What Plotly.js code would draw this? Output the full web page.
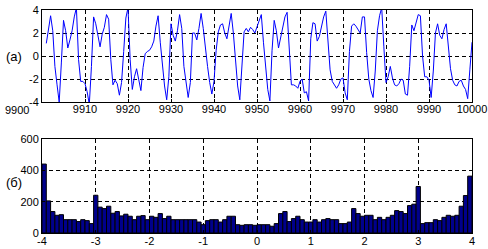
<!DOCTYPE html>
<html>
<head>
<meta charset="utf-8">
<script src="https://cdn.plot.ly/plotly-3.0.1.min.js"></script>
<style>html,body{margin:0;padding:0;background:#fff;}#chart{width:488px;height:249px;}</style>
</head>
<body>
<div id="chart"></div>
<script>
// ---- top panel (a): time series, samples every 0.5 starting at 9901 ----
const seriesStart = 9901;
const seriesStep = 0.5;
const seriesValues = [
  1.1, 2.5, 3.5, 2.2, -0.9, -2.5, -4.0, -0.6, 3.1, 2.2,
  0.7, 1.4, 2.2, 3.4, 4.2, -0.3, -2.2, -2.2, -2.4, -3.1,
  -4.2, -0.9, 3.4, 2.8, 1.7, 0.8, 1.9, 2.5, 3.6, 3.2,
  -0.3, -2.5, -2.1, -2.4, -3.4, -2.3, 0.4, 3.3, 4.2, -0.3,
  -2.9, -1.8, -1.1, -2.1, -3.0, -1.0, 0.2, 0.4, 0.5, 0.8,
  1.3, 2.6, 3.5, 1.2, -1.1, -2.6, -3.8, -1.8, 2.8, 1.8,
  1.3, 2.2, 3.6, 2.4, -0.9, -2.3, -3.6, -2.3, 2.0, 2.0,
  1.4, 2.4, 3.7, 2.4, 0.6, -0.9, -2.3, -3.3, -2.2, 0.5,
  2.1, 2.7, 2.8, 2.0, 1.5, 2.8, 3.7, 2.0, -0.6, -2.6,
  -3.8, -0.9, 2.1, 2.4, 2.1, 2.5, 2.3, 2.0, 2.6, 3.0,
  3.6, 1.2, -0.9, -2.9, -3.9, 0.5, 3.1, 2.2, 0.7, 1.6,
  2.7, 3.4, 3.8, 0.0, -2.5, -2.5, -2.6, -2.8, -2.2, -2.0,
  -3.2, -3.1, -3.9, 1.5, 2.9, 2.8, 1.3, 1.7, 2.5, 3.4,
  3.9, 1.6, -1.2, -2.2, -2.5, -2.8, -2.5, -2.0, -1.9, -3.2,
  -3.8, 0.4, 2.6, 2.8, 2.6, 2.3, 2.0, 3.4, 3.4, 0.3,
  -2.0, -3.0, -3.6, -1.3, 2.2, 3.5, 4.2, 0.8, -2.3, -1.8,
  -0.9, -1.9, -2.5, -2.6, -2.4, -2.0, -2.1, -3.3, -3.4, -0.9,
  2.7, 2.2, 2.8, 3.6, 3.5, 0.0, -1.8, -1.8, -2.1, -3.6,
  -1.3, 2.0, 2.8, 1.8, 1.5, 2.3, 2.8, 0.5, -1.1, -2.1,
  -2.5, -2.6, -2.2, -2.1, -2.6, -2.9, -3.7, -1.2, 1.2
];
const topXTicks = [9900, 9910, 9920, 9930, 9940, 9950, 9960, 9970, 9980, 9990, 10000];
const topXLabels = ['9900','9910','9920','9930','9940','9950','9960','9970','9980','9990','10000'];
const topYTicks = [-4, -2, 0, 2, 4];
const topYLabels = ['-4','-2','0','2','4'];

// ---- bottom panel (б): histogram, 100 bins of width 0.08 from -4 to 4 ----
const binFirstCenter = -3.96;
const binWidth = 0.08;
const binCounts = [
  440, 205, 137, 113, 117, 85, 85, 85, 73, 85,
  79, 60, 241, 165, 156, 171, 126, 137, 109, 120,
  107, 85, 107, 111, 85, 107, 100, 124, 92, 107,
  85, 85, 85, 85, 85, 85, 70, 53, 79, 85,
  85, 70, 85, 107, 107, 53, 49, 53, 53, 49,
  53, 53, 53, 43, 60, 124, 137, 73, 92, 107,
  85, 70, 70, 85, 70, 85, 92, 85, 85, 60,
  60, 70, 156, 124, 107, 113, 113, 85, 100, 85,
  100, 113, 143, 137, 124, 175, 184, 297, 60, 66,
  66, 85, 79, 100, 113, 107, 113, 171, 239, 363
];
const botXTicks = [-4, -3, -2, -1, 0, 1, 2, 3, 4];
const botXLabels = ['-4','-3','-2','-1','0','1','2','3','4'];
const botYTicks = [0, 200, 400, 600];
const botYLabels = ['0','200','400','600'];

const panelLabels = ['(a)', '(б)'];

const font = {family: 'Liberation Sans, Arial, sans-serif', size: 11, color: '#000'};
const axisCommon = {
  showline: true, mirror: true, linecolor: '#000', linewidth: 1,
  showgrid: true, gridcolor: '#000', gridwidth: 1, griddash: '4px,3px',
  zeroline: false, ticks: 'inside', ticklen: 3, tickcolor: '#000',
  tickmode: 'array', tickfont: font
};

// first top tick label is drawn to the left of its tick, as in the reference
const topXTextShown = topXLabels.map((t, i) => (i === 0 ? '' : t));

const traces = [
  {
    type: 'scatter', mode: 'lines',
    x0: seriesStart, dx: seriesStep, y: seriesValues,
    line: {color: '#0000ff', width: 1},
    xaxis: 'x', yaxis: 'y', hoverinfo: 'skip'
  },
  {
    type: 'bar',
    x0: binFirstCenter, dx: binWidth, y: binCounts,
    width: binWidth,
    marker: {color: '#00008c', line: {color: '#000', width: 1}},
    xaxis: 'x2', yaxis: 'y2', hoverinfo: 'skip'
  }
];

const layout = {
  width: 488, height: 249,
  margin: {l: 42, r: 16, t: 10, b: 16, pad: 0},
  paper_bgcolor: '#fff', plot_bgcolor: '#fff',
  showlegend: false, bargap: 0,
  font: font,
  xaxis: Object.assign({}, axisCommon, {
    domain: [0, 1], range: [9900, 10000], anchor: 'y',
    tickvals: topXTicks, ticktext: topXTextShown, ticklabelstandoff: -3
  }),
  yaxis: Object.assign({}, axisCommon, {
    domain: [0.587, 1], range: [-4, 4], anchor: 'x',
    tickvals: topYTicks, ticktext: topYLabels
  }),
  xaxis2: Object.assign({}, axisCommon, {
    domain: [0, 1], range: [-4, 4], anchor: 'y2',
    tickvals: botXTicks, ticktext: botXLabels, ticklabelstandoff: -2
  }),
  yaxis2: Object.assign({}, axisCommon, {
    domain: [0, 0.4215], range: [0, 600], anchor: 'x2',
    tickvals: botYTicks, ticktext: botYLabels
  }),
  annotations: [
    {text: topXLabels[0], xref: 'paper', yref: 'paper', x: -0.059, y: 0.553,
     xanchor: 'center', yanchor: 'middle', showarrow: false, font: font},
    {text: panelLabels[0], xref: 'paper', yref: 'paper', x: -0.066, y: 0.79,
     xanchor: 'center', yanchor: 'middle', showarrow: false,
     font: {family: 'Liberation Sans, Arial, sans-serif', size: 13, color: '#000'}},
    {text: panelLabels[1], xref: 'paper', yref: 'paper', x: -0.066, y: 0.225,
     xanchor: 'center', yanchor: 'middle', showarrow: false,
     font: {family: 'Liberation Sans, Arial, sans-serif', size: 13, color: '#000'}}
  ]
};

Plotly.newPlot('chart', traces, layout, {staticPlot: true, displayModeBar: false});
</script>
</body>
</html>
